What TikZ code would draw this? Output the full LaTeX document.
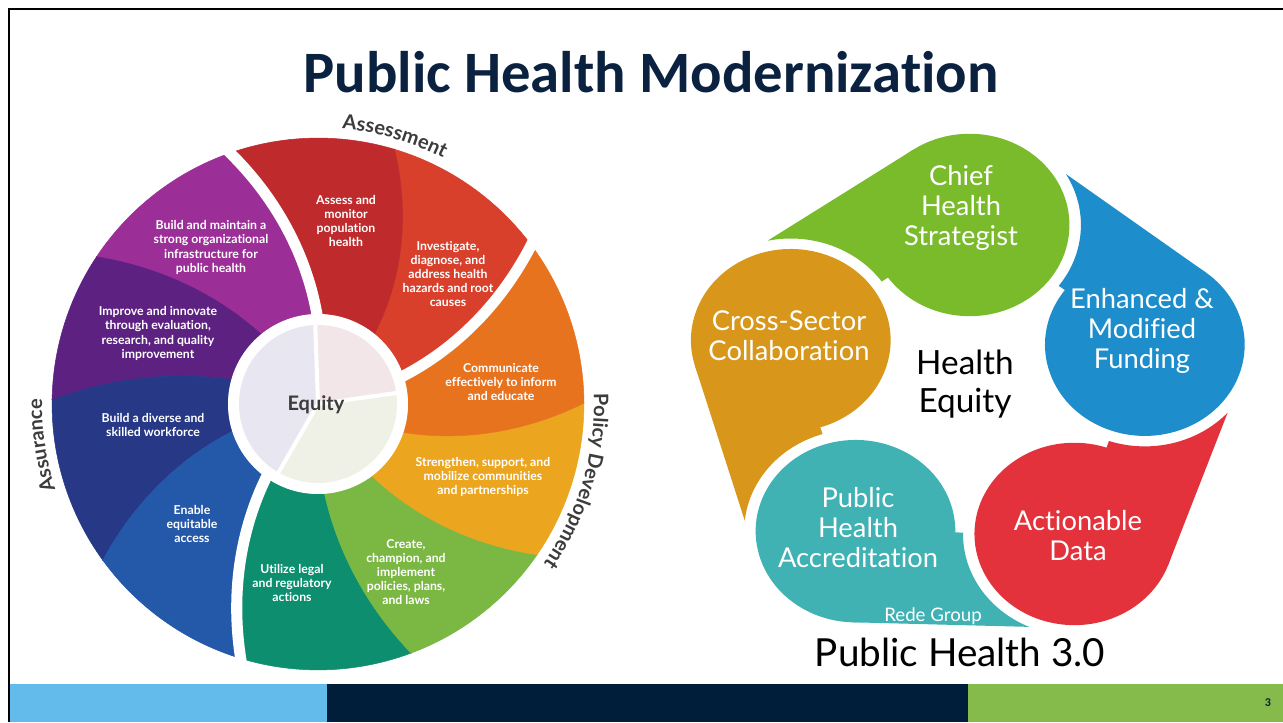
\documentclass[tikz,border=0pt]{standalone}
\usepackage{fontspec}
\setmainfont{Lato}[Ligatures=NoCommon]
\newfontfamily\carlito{Carlito}[Ligatures=NoCommon]
\usetikzlibrary{decorations.text}
% slide colours
\definecolor{titlenavy}{HTML}{0A2240}
\definecolor{footblue}{HTML}{63BBEB}
\definecolor{footnavy}{HTML}{001E3A}
\definecolor{footgreen}{HTML}{85BB4A}
% wheel colours
\definecolor{wdkred}{HTML}{BF2A2C}
\definecolor{wred}{HTML}{D8402B}
\definecolor{worange}{HTML}{E8731F}
\definecolor{wamber}{HTML}{ECA51F}
\definecolor{wgreen}{HTML}{7BB843}
\definecolor{wteal}{HTML}{0D8F6F}
\definecolor{wblue}{HTML}{2458A8}
\definecolor{wnavy}{HTML}{263886}
\definecolor{wdkpurple}{HTML}{5D2181}
\definecolor{wmagenta}{HTML}{9B2F97}
\definecolor{palepink}{HTML}{F3E6E9}
\definecolor{palelav}{HTML}{E8E6F1}
\definecolor{palecream}{HTML}{F0F1E6}
\definecolor{labgray}{HTML}{3C3C3C}
% drop colours
\definecolor{dgreen}{HTML}{7ABB2C}
\definecolor{dblue}{HTML}{1D8ECB}
\definecolor{dred}{HTML}{E3323B}
\definecolor{dteal}{HTML}{40B2B4}
\definecolor{dgold}{HTML}{D8971A}
\newcommand\wheelfont{\fontsize{9.2}{10.6}\selectfont\bfseries}
\newcommand\labfont{\fontsize{15}{15}\selectfont\bfseries}
\newcommand\dropfont{\fontsize{20.5}{22.5}\selectfont}
\def\wRin{90}
\def\wRout{266}
% segment between lower boundary (#2 inner, #3 outer) and upper boundary (#4 inner, #5 outer)
\newcommand\wheelseg[5]{%
  \fill[#1, draw=#1, line width=0.4pt]
    plot[domain=0:1, samples=30] ({(#2)+\x*((#3)-(#2))}:{\wRin+\x*(\wRout-\wRin)})
    arc[start angle=#3, end angle=#5, radius=\wRout]
    -- plot[domain=0:1, samples=30] ({(#5)+\x*((#4)-(#5))}:{\wRout-\x*(\wRout-\wRin)})
    arc[start angle=#4, end angle=#2, radius=\wRin] -- cycle;}
\newcommand\wheelgap[2]{%
  \draw[white, line width=8.3pt]
    plot[domain=-0.15:1.12, samples=40] ({(#1)+\x*((#2)-(#1))}:{\wRin+\x*(\wRout-\wRin)});}
\tikzset{
  wtext/.style={text=white, align=center, inner sep=0pt, font=\wheelfont},
  droptext/.style={text=white, align=center, inner sep=0pt, font=\dropfont},
}
\begin{document}
\begin{tikzpicture}[x=0.75pt, y=0.75pt]
\useasboundingbox (0,0) rectangle (1283,722);
\fill[white] (0,0) rectangle (1283,722);
% frame
\draw[black, line width=1.5pt] (9,0) -- (9,713) -- (1283,713);
% title
\node[anchor=base, text=titlenavy, font=\carlito\bfseries\fontsize{44}{48}\selectfont] (title) at (651,629) {Public Health Modernization};
% footer
\fill[footblue] (10,0) rectangle (327,38);
\fill[footnavy] (327,0) rectangle (968,38);
\fill[footgreen] (968,0) rectangle (1283,38);
\node[text=titlenavy, font=\carlito\bfseries\fontsize{9}{10}\selectfont] (pagenum) at (1268,19) {3};

% ================= wheel =================
\begin{scope}[shift={(318,318)}]
  \wheelseg{wteal}{234.8}{253.1}{274.2}{290.5}
  \wheelseg{wgreen}{274.2}{290.5}{306.9}{325.5}
  \wheelseg{wamber}{306.9}{325.5}{341.6}{360.2}
  \wheelseg{worange}{341.6}{360.2}{378.2}{396.7}
  \wheelseg{wred}{378.2}{396.7}{411.2}{433.3}
  \wheelseg{wdkred}{411.2}{433.3}{450.7}{469.3}
  \wheelseg{wmagenta}{450.7}{469.3}{489.2}{506.4}
  \wheelseg{wdkpurple}{489.2}{506.4}{524.2}{539.1}
  \wheelseg{wnavy}{524.2}{539.1}{557.7}{576.0}
  \wheelseg{wblue}{557.7}{576.0}{594.8}{613.1}
  \wheelgap{90.7}{109.3}
  \wheelgap{18.2}{36.7}
  \wheelgap{234.8}{253.1}
  % centre
  \fill[white] (0,0) circle[radius=\wRin];
  \fill[palepink] (0,0) -- (8:79) arc[start angle=8, end angle=92, radius=79] -- cycle;
  \fill[palelav] (0,0) -- (92:79) arc[start angle=92, end angle=240, radius=79] -- cycle;
  \fill[palecream] (0,0) -- (240:79) arc[start angle=240, end angle=368, radius=79] -- cycle;
  \draw[white, line width=3pt] (0,0) -- (92:80);
  \draw[white, line width=3pt] (0,0) -- (8:80);
  \draw[white, line width=3pt] (0,0) -- (240:80);
  % labels along rim
  \path[decorate, decoration={text along path, text align=center, text color=labgray,
      text={|\labfont|Assessment}}] (114:276) arc[start angle=114, end angle=34, radius=276];
  \path[decorate, decoration={text along path, text align=center, text color=labgray,
      text={|\labfont|Policy Development}}] (28:276) arc[start angle=28, end angle=-61, radius=276];
  \path[decorate, decoration={text along path, text align=center, text color=labgray,
      text={|\labfont|Assurance}}] (230:276) arc[start angle=230, end angle=147, radius=276];
\end{scope}
\node[text=labgray, font=\fontsize{15}{15}\selectfont\bfseries] (equity) at (316,317) {Equity};
\node[wtext] (s1) at (346,501) {Assess and\\monitor\\population\\health};
\node[wtext] (s2) at (448,448) {Investigate,\\diagnose, and\\address health\\hazards and root\\causes};
\node[wtext] (s3) at (501,340) {Communicate\\effectively to inform\\and educate};
\node[wtext] (s4) at (483,245) {Strengthen, support, and\\mobilize communities\\and partnerships};
\node[wtext] (s5) at (406,150) {Create,\\champion, and\\implement\\policies, plans,\\and laws};
\node[wtext] (s6) at (292,139) {Utilize legal\\and regulatory\\actions};
\node[wtext] (s7) at (192,198) {Enable\\equitable\\access};
\node[wtext] (s8) at (153,297) {Build a diverse and\\skilled workforce};
\node[wtext] (s9) at (158,388.5) {Improve and innovate\\through evaluation,\\research, and quality\\improvement};
\node[wtext] (s10) at (211,474.5) {Build and maintain a\\strong organizational\\infrastructure for\\public health};

% ================= Public Health 3.0 drops =================
\foreach \k/\col in {0/dgreen,1/dblue,2/dred,3/dteal,4/dgold}{
  \begin{scope}[shift={(967,327)}, xscale=1.04, yscale=0.95, rotate={-72*\k}]
    \fill[\col] (-191.6,162.5) -- (-51.7,258.2) -- (2.5,178.98) -- (-82.0,119.4)
      arc[start angle=35.2, end angle=102.0, radius=107] -- cycle;
    \fill[\col] (2.5,178.98) circle[radius=96];
  \end{scope}
}
\node[droptext] (chs) at (961,514) {Chief\\Health\\Strategist};
\node[droptext] (emf) at (1142,391) {Enhanced \&\\Modified\\Funding};
\node[droptext] (ad) at (1078,186.5) {Actionable\\Data};
\node[droptext] (pha) at (858,194.5) {Public\\Health\\Accreditation};
\node[droptext] (csc) at (789,386) {Cross-Sector\\Collaboration};
\node[text=black, align=center, inner sep=0pt, font=\fontsize{25}{28.5}\selectfont] (he) at (965,338) {Health\\Equity};
\node[text=white, inner sep=0pt, font=\fontsize{14}{14}\selectfont] (rede) at (933,106) {Rede Group};
\node[text=black, inner sep=0pt, font=\fontsize{29}{30}\selectfont] (ph3) at (960,70) {Public Health 3.0};
\end{tikzpicture}
\end{document}
